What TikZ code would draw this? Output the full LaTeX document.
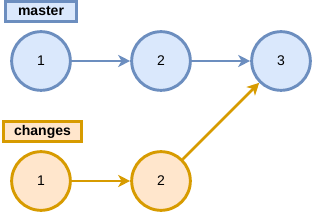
\documentclass[tikz,border=0pt]{standalone}
\usepackage{fontspec}
\setmainfont{Liberation Sans}
\usetikzlibrary{arrows.meta}
\definecolor{bfill}{HTML}{DAE8FC}
\definecolor{bline}{HTML}{6C8EBF}
\definecolor{ofill}{HTML}{FFE6CC}
\definecolor{oline}{HTML}{D79B00}
\begin{document}
\begin{tikzpicture}[x=0.75pt,y=-0.75pt,
  bnode/.style={circle,draw=bline,fill=bfill,line width=2.2pt,minimum size=44pt,inner sep=0pt,font=\fontsize{10.5}{12}\selectfont},
  onode/.style={circle,draw=oline,fill=ofill,line width=2.2pt,minimum size=44pt,inner sep=0pt,font=\fontsize{10.5}{12}\selectfont},
  blabel/.style={draw=bline,fill=bfill,line width=2.2pt,inner sep=0pt,font=\bfseries\fontsize{10.5}{12}\selectfont},
  olabel/.style={draw=oline,fill=ofill,line width=2.2pt,inner sep=0pt,font=\bfseries\fontsize{10.5}{12}\selectfont},
  barrow/.style={draw=bline,line width=2pt,-{Stealth[length=9pt,width=9pt,inset=2.5pt]}},
  oarrow/.style={draw=oline,line width=2pt,-{Stealth[length=9pt,width=9pt,inset=2.5pt]}}
]
\useasboundingbox (0,0) rectangle (323,216);
\node[blabel,minimum width=53pt,minimum height=15.5pt] (lm) at (41,11.5) {master};
\node[olabel,minimum width=58pt,minimum height=15.5pt] (lc) at (42.5,131.5) {changes};
\node[bnode] (m1) at (41,61) {1};
\node[bnode] (m2) at (161,61) {2};
\node[bnode] (m3) at (281,61) {3};
\node[onode] (c1) at (41,181) {1};
\node[onode] (c2) at (161,181) {2};
\draw[barrow] (m1) -- (m2);
\draw[barrow] (m2) -- (m3);
\draw[oarrow] (c1) -- (c2);
\draw[oarrow] (c2) -- (m3);
\end{tikzpicture}
\end{document}
